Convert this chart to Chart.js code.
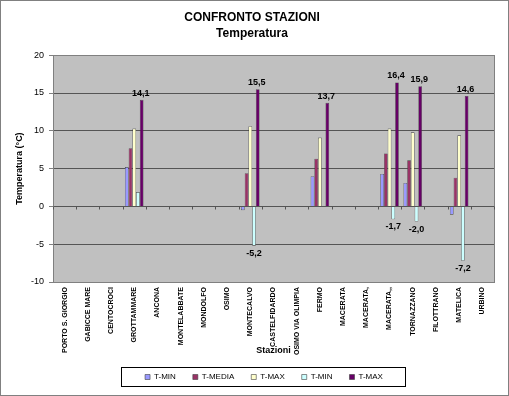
<!DOCTYPE html>
<html>
<head>
<meta charset="utf-8">
<script src="https://cdn.jsdelivr.net/npm/chart.js@4.4.1/dist/chart.umd.min.js"></script>
<style>
  html, body { margin: 0; padding: 0; background: #fff; }
  #wrap { width: 509px; height: 396px; }
</style>
</head>
<body>
<div id="wrap"><canvas id="grafico" width="509" height="396"></canvas></div>
<script>
// Dati stazioni
const stazioni = [
    'PORTO S. GIORGIO', 'GABICCE MARE', 'CENTOCROCI', 'GROTTAMMARE', 'ANCONA',
    'MONTELABBATE', 'MONDOLFO', 'OSIMO', 'MONTECALVO', 'CASTELFIDARDO',
    'OSIMO VIA OLIMPIA', 'FERMO', 'MACERATA', 'MACERATA,', 'MACERATA,,',
    'TORNAZZANO', 'FILOTTRANO', 'MATELICA', 'URBINO'
];
const serie = ['T-MIN', 'T-MEDIA', 'T-MAX', 'T-MIN', 'T-MAX'];
const tMin   = [null, null, null, 5.2, null, null, null, null, -0.5, null, null, 4.0, null, null, 4.3, 3.1, null, -1.1, null];
const tMedia = [null, null, null, 7.7, null, null, null, null, 4.4, null, null, 6.3, null, null, 7.0, 6.1, null, 3.8, null];
const tMax   = [null, null, null, 10.3, null, null, null, null, 10.6, null, null, 9.1, null, null, 10.3, 9.8, null, 9.4, null];
const tMin2  = [null, null, null, 1.9, null, null, null, null, -5.2, null, null, 0, null, null, -1.7, -2.0, null, -7.2, null];
const tMax2  = [null, null, null, 14.1, null, null, null, null, 15.5, null, null, 13.7, null, null, 16.4, 15.9, null, 14.6, null];
const yTicks = [-10, -5, 0, 5, 10, 15, 20];

const colori = ['#9999FF', '#993366', '#FFFFCC', '#CCFFFF', '#660066'];
const valori = [tMin, tMedia, tMax, tMin2, tMax2];

const fmt = (v) => v.toFixed(1).replace('.', ',');

// sfondo area grafico, bordi, tacche sullo zero, etichette
const decorazioni = {
    id: 'decorazioni',
    afterLayout(chart) {
        // legenda un po' spostata a destra come nell'originale
        chart.legend.left += 12;
        chart.legend.right += 12;
    },
    beforeDraw(chart) {
        const { ctx, chartArea: a } = chart;
        ctx.save();
        ctx.fillStyle = '#C0C0C0';
        ctx.fillRect(a.left, a.top, a.right - a.left, a.bottom - a.top);
        ctx.restore();
    },
    afterDatasetsDraw(chart) {
        const { ctx, chartArea: a, scales } = chart;
        ctx.save();
        ctx.strokeStyle = '#808080';
        ctx.lineWidth = 1;
        ctx.strokeRect(Math.round(a.left) + 0.5, Math.round(a.top) + 0.5,
            Math.round(a.right - a.left), Math.round(a.bottom - a.top));
        // tacche asse categorie sullo zero
        const y0 = Math.round(scales.y.getPixelForValue(0)) + 0.5;
        const w = (a.right - a.left) / stazioni.length;
        ctx.strokeStyle = '#555';
        ctx.beginPath();
        for (let i = 0; i <= stazioni.length; i++) {
            const x = Math.round(a.left + i * w) + 0.5;
            ctx.moveTo(x, y0);
            ctx.lineTo(x, y0 + 3);
        }
        ctx.stroke();
        // etichette dati
        ctx.fillStyle = '#000';
        ctx.font = 'bold 9px "Liberation Sans", Arial, sans-serif';
        ctx.textAlign = 'center';
        [3, 4].forEach((di) => {
            const meta = chart.getDatasetMeta(di);
            chart.data.datasets[di].data.forEach((v, i) => {
                if (v === null) return;
                const bar = meta.data[i];
                if (di === 4) {
                    ctx.textBaseline = 'bottom';
                    ctx.fillText(fmt(v), bar.x - 1, bar.y - 2);
                } else if (v < 0) {
                    ctx.textBaseline = 'top';
                    ctx.fillText(fmt(v), bar.x, bar.y + 3);
                }
            });
        });
        // cornice legenda
        const hb = chart.legend.legendHitBoxes;
        if (hb && hb.length) {
            const l = Math.min(...hb.map(h => h.left)) - 24;
            const r = Math.max(...hb.map(h => h.left + h.width)) + 22;
            const t = Math.min(...hb.map(h => h.top)) - 6;
            const b = Math.max(...hb.map(h => h.top + h.height)) + 5;
            ctx.strokeStyle = '#000';
            ctx.strokeRect(Math.round(l) + 0.5, Math.round(t) + 0.5, Math.round(r - l), Math.round(b - t));
        }
        // cornice esterna
        ctx.strokeStyle = '#808080';
        ctx.strokeRect(0.5, 0.5, chart.width - 1, chart.height - 1);
        ctx.restore();
    }
};

new Chart(document.getElementById('grafico'), {
    type: 'bar',
    data: {
        labels: stazioni,
        datasets: serie.map((nome, i) => ({
            label: nome,
            data: valori[i],
            backgroundColor: colori[i],
            borderColor: '#404040',
            borderWidth: 0.6
        }))
    },
    options: {
        responsive: false,
        animation: false,
        layout: { padding: { left: 10, right: 15, top: 0, bottom: 5 } },
        datasets: {
            bar: { categoryPercentage: 0.8, barPercentage: 1 }
        },
        scales: {
            x: {
                grid: { display: false, drawTicks: false },
                border: { display: false },
                ticks: {
                    autoSkip: false,
                    maxRotation: 90,
                    minRotation: 90,
                    color: '#000',
                    padding: 5,
                    font: { size: 7, weight: 'bold', family: '"Liberation Sans", Arial, sans-serif' }
                },
                title: {
                    display: true,
                    text: 'Stazioni',
                    color: '#000',
                    padding: { top: 2, bottom: 0 },
                    font: { size: 9, weight: 'bold', family: '"Liberation Sans", Arial, sans-serif' }
                },
                afterFit: (s) => { s.height = 74; }
            },
            y: {
                min: -10,
                max: 20,
                afterBuildTicks: (s) => { s.ticks = yTicks.map(v => ({ value: v })); },
                grid: {
                    color: '#555',
                    drawTicks: true,
                    tickLength: 4,
                    tickColor: '#808080'
                },
                border: { color: '#808080' },
                ticks: {
                    color: '#000',
                    padding: 5,
                    font: { size: 9, family: '"Liberation Sans", Arial, sans-serif' }
                },
                title: {
                    display: true,
                    text: 'Temperatura (°C)',
                    color: '#000',
                    padding: { top: 4, bottom: 2 },
                    font: { size: 9, weight: 'bold', family: '"Liberation Sans", Arial, sans-serif' }
                },
                afterFit: (s) => { s.width = 43; }
            }
        },
        plugins: {
            title: {
                display: true,
                text: ['CONFRONTO STAZIONI', 'Temperatura'],
                color: '#000',
                padding: { top: 10, bottom: 14 },
                font: { size: 12, weight: 'bold', family: '"Liberation Sans", Arial, sans-serif', lineHeight: 1.3 }
            },
            legend: {
                position: 'bottom',
                labels: {
                    boxWidth: 5,
                    boxHeight: 5,
                    padding: 17,
                    color: '#000',
                    font: { size: 8, family: '"Liberation Sans", Arial, sans-serif' }
                }
            },
            tooltip: { enabled: false }
        }
    },
    plugins: [decorazioni]
});
</script>
</body>
</html>
